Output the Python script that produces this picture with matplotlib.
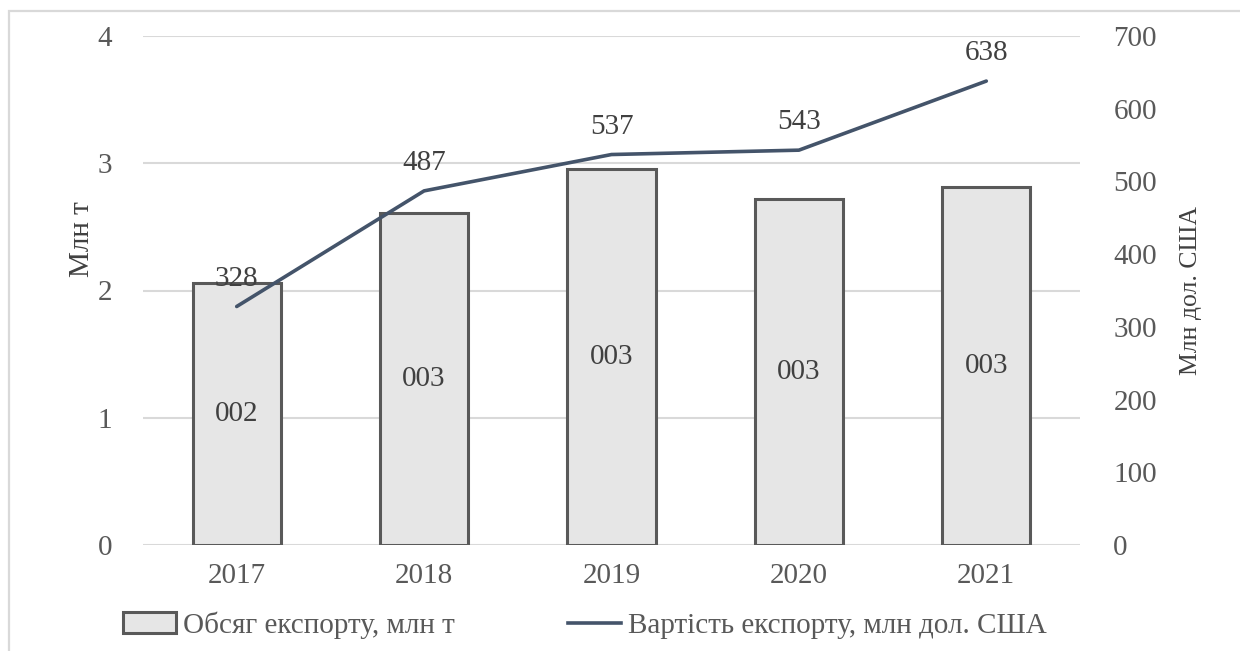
import matplotlib
matplotlib.use("Agg")
import matplotlib.pyplot as plt
from matplotlib.patches import Rectangle, Patch
from matplotlib.lines import Line2D

years = ["2017", "2018", "2019", "2020", "2021"]
volume = [2.06, 2.61, 2.955, 2.72, 2.81]
volume_labels = ["002", "003", "003", "003", "003"]
value = [328, 487, 537, 543, 638]
left_ticks = [0, 1, 2, 3, 4]
right_ticks = [0, 100, 200, 300, 400, 500, 600, 700]

plt.rcParams['font.family'] = ['Liberation Serif', 'DejaVu Serif']
TXT = '#595959'
DARK = '#404040'
FS = 21

fig = plt.figure(figsize=(12.4, 6.51), dpi=100)
ax = fig.add_axes([143/1240, 1-545/651, (1080-143)/1240, (545-36)/651])
ax2 = ax.twinx()

x = list(range(len(years)))
ax.bar(x, volume, width=0.47, color='#e6e6e6', edgecolor='#595959', linewidth=2.2, zorder=3)
for xi, v, lab in zip(x, volume, volume_labels):
    ax.text(xi, v/2, lab, ha='center', va='center', fontsize=FS, color=DARK, zorder=4)

ax.set_ylim(0, 4)
ax.set_xlim(-0.5, len(years)-0.5)
ax.set_yticks(left_ticks)
ax.set_xticks(x)
ax.set_xticklabels(years)
ax.yaxis.grid(True, color='#d9d9d9', linewidth=1.5, zorder=0)
ax.set_axisbelow(True)
for s in ax.spines.values():
    s.set_visible(False)
ax.tick_params(axis='y', length=0, pad=22, labelsize=FS, labelcolor=TXT)
ax.tick_params(axis='x', length=0, pad=13, labelsize=FS, labelcolor=TXT)
ax.set_ylabel("Млн т", fontsize=21, color=DARK)
ax.yaxis.set_label_coords(-0.051, 0.60)

ax2.plot(x, value, color='#44546a', linewidth=2.6, solid_capstyle='round', zorder=5)
for xi, v in zip(x, value):
    ax2.annotate(str(v), (xi, v), xytext=(0, 20), textcoords='offset points',
                 ha='center', va='center', fontsize=FS, color=DARK)
ax2.set_ylim(0, 700)
ax2.set_yticks(right_ticks)
for s in ax2.spines.values():
    s.set_visible(False)
ax2.tick_params(axis='y', length=0, pad=24, labelsize=FS, labelcolor=TXT)
ax2.set_ylabel("Млн дол. США", fontsize=18.5, color=DARK)
ax2.yaxis.set_label_coords(1.107, 0.5)

handles = [Patch(facecolor='#e6e6e6', edgecolor='#595959', linewidth=2.2),
           Line2D([0], [0], color='#44546a', linewidth=2.6)]
leg = fig.legend(handles, ["Обсяг експорту, млн т", "Вартість експорту, млн дол. США"],
                 loc='center', bbox_to_anchor=(585/1240, 1-625/651), ncol=2, frameon=False,
                 fontsize=FS, handlelength=1.8, handletextpad=0.24, columnspacing=3.9)
for t in leg.get_texts():
    t.set_color(TXT)

fig.patches.append(Rectangle((9/1240, -0.5), 2, 1.5 - 11/651, transform=fig.transFigure,
                             fill=False, edgecolor='#d9d9d9', linewidth=1.6))

fig.savefig("out.png", dpi=100)
